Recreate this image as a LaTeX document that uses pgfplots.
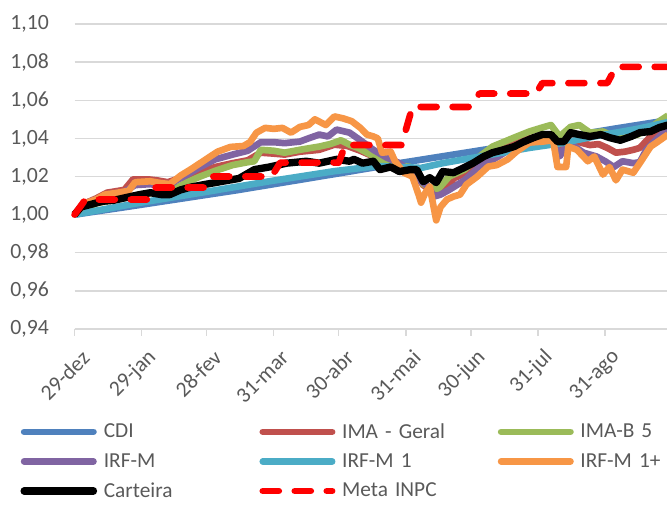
\documentclass[border=0pt]{standalone}
\usepackage{fontspec}
\setmainfont{Carlito}
\usepackage{pgfplots}
\pgfplotsset{compat=1.18}
\definecolor{cCDI}{HTML}{4F81BD}
\definecolor{cIMA}{HTML}{C0504D}
\definecolor{cIMAB}{HTML}{9BBB59}
\definecolor{cIRFM}{HTML}{8064A2}
\definecolor{cIRFMa}{HTML}{4BACC6}
\definecolor{cIRFMb}{HTML}{F79646}
\definecolor{cGrid}{HTML}{D9D9D9}
\definecolor{cText}{HTML}{595959}
\begin{document}
\begin{tikzpicture}
\path[use as bounding box] (0,0) rectangle (500.25pt,378pt);
\begin{axis}[
  at={(55.9pt,131.25pt)}, anchor=south west, scale only axis,
  width=444.4pt, height=228.75pt,
  xmin=0, xmax=273.6, ymin=0.94, ymax=1.10,
  clip=false,
  axis x line*=bottom, axis y line*=left,
  axis line style={-},
  x axis line style={draw=cGrid, line width=1pt},
  y axis line style={draw=none},
  ymajorgrids, grid style={draw=cGrid, line width=1pt},
  ytick={0.94,0.96,...,1.101},
  xtick={0,31,61,92,122,153,183,214,245},
  xticklabels={29-dez,29-jan,28-fev,31-mar,30-abr,31-mai,30-jun,31-jul,31-ago},
  tick align=outside, major tick length=5pt,
  xtick style={draw=cGrid, line width=1pt},
  ytick style={draw=none},
  tick label style={font=\fontsize{16.3}{19}\selectfont, text=cText},
  yticklabel style={inner sep=0pt, anchor=east, xshift=-14pt,
    /pgf/number format/fixed, /pgf/number format/fixed zerofill,
    /pgf/number format/precision=2, /pgf/number format/use comma,
    /pgf/number format/assume math mode=true},
  xticklabel style={inner sep=0pt, anchor=east, yshift=-13.75pt, xshift=8.5pt, rotate=45},
  legend columns=3,
  legend cell align=left,
  legend image code/.code={\draw[#1, line cap=round] (0pt,0pt) -- (52pt,0pt);},
  legend style={draw=none, fill=none, font=\fontsize{16}{19}\selectfont, text=cText,
    at={(axis description cs:-0.0917,-0.30)}, anchor=north west,
    inner sep=0pt, row sep=6pt,
    /tikz/every odd column/.append style={column sep=3pt},
    /tikz/every even column/.append style={text width=114.75pt}},
  every axis plot/.append style={line join=round, line width=5pt},
]
\addplot[cCDI] coordinates {
(0,1.000) (25,1.0042) (50,1.0085) (75,1.0128) (100,1.0175) (125,1.0222)
(150,1.0270) (175,1.0315) (200,1.0360) (225,1.0405) (250,1.0452) (274,1.0495)};
\addlegendentry{CDI}
\addplot[cIMA] coordinates {
(0,1.000) (5,1.006) (10,1.0085) (15,1.0115) (23,1.013) (27,1.0185) (34,1.0185)
(38,1.018) (43,1.017) (47,1.0185) (52,1.020) (58,1.0225) (65,1.025) (73,1.027)
(80,1.0285) (86,1.0325) (92,1.032) (97,1.0315) (104,1.033) (113,1.034) (120,1.0367)
(126,1.036) (132,1.0335) (138,1.0305) (144,1.028) (150,1.025) (156,1.023) (161,1.0155)
(165,1.0125) (168,1.0105) (173,1.015) (175,1.019) (181,1.022) (187,1.028) (193,1.032)
(203,1.037) (210,1.040) (216,1.0415) (220,1.042) (223,1.035) (226,1.036) (229,1.042)
(233,1.038) (238,1.0365) (242,1.037) (246,1.035) (250,1.0325) (254,1.033) (258,1.034)
(261,1.035) (266,1.041) (270,1.044) (274,1.047)};
\addlegendentry{IMA - Geral}
\addplot[cIMAB] coordinates {
(0,1.000) (10,1.006) (20,1.008) (30,1.0105) (40,1.012) (47,1.014) (52,1.017) (58,1.020)
(65,1.023) (73,1.026) (80,1.0275) (83,1.028) (86,1.034) (92,1.0335) (97,1.0325)
(104,1.034) (113,1.0357) (118,1.037) (123,1.039) (127,1.0367) (131,1.035) (135,1.0325)
(141,1.029) (147,1.026) (155,1.025) (158,1.022) (161,1.016) (165,1.014) (168,1.0135)
(173,1.020) (180,1.0236) (187,1.0305) (193,1.0357) (203,1.0404) (210,1.0436)
(216,1.0457) (220,1.047) (224,1.041) (229,1.046) (233,1.047) (238,1.043) (244,1.0436)
(249,1.041) (253,1.040) (260,1.042) (266,1.0457) (270,1.049) (274,1.052)};
\addlegendentry{IMA-B 5}
\addplot[cIRFM] coordinates {
(0,1.000) (5,1.006) (10,1.008) (15,1.0105) (23,1.012) (28,1.0155) (35,1.016) (40,1.015)
(44,1.0155) (47,1.018) (52,1.021) (58,1.025) (65,1.029) (73,1.0315) (80,1.0335)
(86,1.038) (92,1.038) (97,1.0375) (104,1.0383) (108,1.040) (113,1.042) (117,1.041)
(121,1.0446) (127,1.043) (132,1.039) (138,1.034) (144,1.030) (150,1.027) (154,1.0236)
(158,1.019) (163,1.015) (166,1.0095) (169,1.0105) (173,1.013) (180,1.018) (187,1.025)
(195,1.030) (203,1.0357) (214,1.039) (220,1.040) (223,1.034) (224,1.0305) (228,1.038)
(235,1.0325) (241,1.0305) (245,1.028) (249,1.025) (253,1.028) (258,1.027) (261,1.0275)
(264,1.034) (270,1.041) (274,1.045)};
\addlegendentry{IRF-M}
\addplot[cIRFMa] coordinates {
(0,1.000) (30,1.0062) (60,1.0118) (90,1.0175) (120,1.0228) (140,1.0255) (150,1.0250)
(160,1.0245) (170,1.0270) (190,1.0310) (210,1.0350) (225,1.0375) (240,1.0410)
(260,1.0450) (274,1.0485)};
\addlegendentry{IRF-M 1}
\addplot[cIRFMb] coordinates {
(0,1.000) (5,1.006) (10,1.008) (14,1.0105) (20,1.0115) (25,1.0125) (28,1.017) (35,1.0175)
(40,1.0165) (44,1.016) (49,1.0205) (54,1.024) (58,1.027) (62,1.030) (66,1.033) (72,1.0355)
(78,1.036) (81,1.038) (84,1.043) (88,1.0455) (92,1.045) (96,1.0455) (100,1.043)
(104,1.046) (108,1.047) (111,1.050) (116,1.047) (120,1.0515) (124,1.0505) (128,1.049)
(132,1.0455) (135,1.042) (138,1.041) (140,1.040) (142,1.0325) (146,1.033) (148,1.028)
(152,1.022) (156,1.020) (159,1.010) (160,1.0063) (162,1.0115) (164,1.0147) (167,0.997)
(169,1.004) (172,1.008) (175,1.0095) (178,1.0105) (181,1.0158) (186,1.020) (191,1.0252)
(195,1.026) (200,1.029) (204,1.033) (210,1.0378) (216,1.0383) (221,1.039) (223,1.025)
(227,1.025) (228,1.0357) (232,1.034) (237,1.028) (240,1.0305) (244,1.021) (247,1.025)
(250,1.018) (253,1.0236) (258,1.022) (261,1.027) (266,1.0357) (269,1.038) (274,1.042)};
\addlegendentry{IRF-M 1+}
\addplot[black, line width=5.5pt] coordinates {
(0,1.000) (3,1.004) (8,1.0055) (13,1.007) (18,1.0075) (26,1.0095) (30,1.0105) (35,1.0115)
(40,1.0105) (44,1.0105) (49,1.013) (54,1.0145) (60,1.0158) (66,1.017) (71,1.018)
(76,1.019) (83,1.0236) (90,1.025) (98,1.027) (107,1.028) (113,1.027) (121,1.029)
(127,1.028) (129,1.029) (133,1.027) (138,1.028) (141,1.0236) (146,1.025) (150,1.0226)
(155,1.0236) (158,1.0236) (161,1.0173) (164,1.0194) (167,1.0168) (170,1.0226)
(175,1.022) (180,1.0247) (184,1.027) (189,1.0305) (193,1.0325) (198,1.034) (203,1.0357)
(207,1.038) (212,1.0404) (216,1.042) (220,1.042) (223,1.0383) (226,1.0383) (229,1.043)
(233,1.042) (238,1.041) (243,1.042) (247,1.0404) (252,1.039) (257,1.041) (261,1.043)
(266,1.0436) (270,1.0457) (274,1.047)};
\addlegendentry{Carteira}
\addplot[red, line cap=round, dash pattern=on 12pt off 12pt] coordinates {
(0,1.000) (5,1.0079) (34,1.0079) (37,1.0142) (60,1.0142) (63,1.0200) (91,1.0200)
(95,1.0273) (122,1.0273) (125,1.0365) (151,1.0365) (156,1.0565) (182,1.0565)
(187,1.0635) (213,1.0635) (216,1.069) (246,1.069) (250,1.0775) (274,1.0775)};
\addlegendentry{Meta INPC}
\end{axis}
\end{tikzpicture}
\end{document}
